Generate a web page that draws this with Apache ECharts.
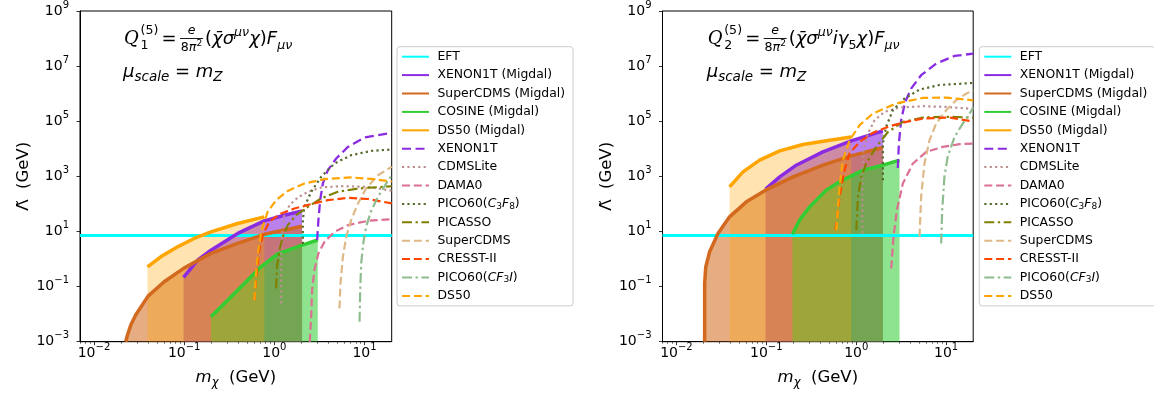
<!DOCTYPE html>
<html><head><meta charset="utf-8">
<script src="https://cdn.jsdelivr.net/npm/echarts@6.0.0/dist/echarts.min.js"></script>
<style>html,body{margin:0;padding:0;background:#fff}#c{width:1154px;height:394px}</style>
</head><body><div id="c"></div>
<script>
// ---------- axis values ----------
const xMin = 0.007, xMax = 20;
const xMajor = [0.01, 0.1, 1, 10];
const xMinor = [0.007,0.008,0.009,0.02,0.03,0.04,0.05,0.06,0.07,0.08,0.09,0.2,0.3,0.4,0.5,0.6,0.7,0.8,0.9,2,3,4,5,6,7,8,9];
const yMin = 1e-3, yMax = 1e9;
const yMajor = [1e-3, 1e-1, 1e1, 1e3, 1e5, 1e7, 1e9];

// ---------- left panel (Q1) : m in GeV, Lambda in GeV ----------
const q1_eft_m = [0.007, 20];
const q1_eft_L = [7.2, 7.2];
const q1_xenonMigdal_m = [0.0985, 0.141, 0.198, 0.392, 0.774, 1.29, 2.03];
const q1_xenonMigdal_L = [0.215, 0.91, 2.1, 8.5, 24.3, 38.9, 56];
const q1_superCDMSMigdal_m = [0.0225, 0.0235, 0.0256, 0.029, 0.0398, 0.06, 0.0985, 0.198, 0.392, 0.774, 2.03];
const q1_superCDMSMigdal_L = [0.001, 0.00174, 0.004, 0.0093, 0.045, 0.149, 0.457, 1.6, 3.7, 7.9, 15.5];
const q1_cosineMigdal_m = [0.198, 0.303, 0.464, 0.711, 1.09, 2.03, 3.03];
const q1_cosineMigdal_L = [0.008, 0.032, 0.13, 0.52, 1.55, 3.2, 4.9];
const q1_ds50Migdal_m = [0.0392, 0.055, 0.0845, 0.129, 0.198, 0.392, 0.774];
const q1_ds50Migdal_L = [0.52, 1.2, 2.77, 5.58, 9.7, 19.5, 33.9];
const q1_xenon1t_m = [2.98, 3.08, 3.22, 3.45, 3.92, 4.85, 6.54, 10, 20];
const q1_xenon1t_L = [4.85, 25.7, 137, 552, 1675, 4450, 11700, 25700, 38000];
const q1_cdmslite_m = [1.19, 1.19, 1.21, 1.27, 1.47, 1.82, 2.35, 3.3, 5.5, 10.9, 20];
const q1_cdmslite_L = [0.0245, 0.91, 6.4, 33.9, 90, 171, 274, 395, 440, 417, 300];
const q1_dama0_m = [2.47, 2.56, 2.62, 2.78, 3.08, 3.6, 4.64, 6.55, 10.9, 20];
const q1_dama0_L = [0.001, 0.008, 0.0746, 0.396, 1.6, 4.2, 9.7, 17, 24.3, 28];
const q1_pico60c3f8_m = [2.07, 2.07, 2.15, 2.56, 3.3, 4.64, 7.1, 11.9, 20];
const q1_pico60c3f8_L = [3.5, 25.7, 78, 274, 955, 2930, 5860, 8400, 9440];
const q1_picasso_m = [1.045, 1.07, 1.14, 1.24, 1.41, 1.74, 2.35, 3.3, 5.06, 8.45, 20];
const q1_picasso_L = [0.086, 0.52, 2.1, 6.4, 17, 39, 78, 158, 274, 363, 437];
const q1_supercdms_m = [5.27, 5.41, 5.75, 6.27, 7.1, 8.45, 10.4, 14.1, 20];
const q1_supercdms_L = [0.0162, 0.13, 1.2, 6.4, 25.7, 104, 363, 1100, 2240];
const q1_cresst_m = [0.6, 0.643, 0.681, 0.743, 0.879, 1.14, 1.67, 2.56, 3.92, 6.55, 10.9, 20];
const q1_cresst_L = [0.032, 0.41, 2.1, 7.4, 22.4, 42.7, 68, 98, 137, 166, 151, 104];
const q1_pico60cf3i_m = [8.8, 8.95, 9.18, 9.68, 10.4, 11.9, 14.1, 17.4, 20];
const q1_pico60cf3i_L = [0.0053, 0.0746, 0.69, 3.68, 14.8, 59, 180, 552, 1100];
const q1_ds50_m = [0.6, 0.627, 0.664, 0.724, 0.843, 1.045, 1.41, 2.15, 3.6, 7.1, 12.9, 20];
const q1_ds50_L = [0.032, 0.30, 2.1, 11.2, 51.5, 137, 297, 552, 789, 912, 789, 646];

// ---------- right panel (Q2) ----------
const q2_eft_m = [0.007, 20];
const q2_eft_L = [7.2, 7.2];
const q2_xenonMigdal_m = [0.098, 0.141, 0.215, 0.426, 0.879, 1.98];
const q2_xenonMigdal_L = [343, 955, 2540, 7700, 19400, 44600];
const q2_superCDMSMigdal_m = [0.0206, 0.0206, 0.0212, 0.0234, 0.029, 0.039, 0.06, 0.098, 0.198, 0.426, 0.879, 1.98];
const q2_superCDMSMigdal_L = [0.001, 0.13, 0.52, 1.83, 8.5, 33.9, 119, 316, 955, 2540, 5530, 11200];
const q2_cosineMigdal_m = [0.195, 0.234, 0.303, 0.464, 0.653, 1.19, 1.98, 3.03];
const q2_cosineMigdal_L = [7.9, 25.7, 78, 316, 631, 1675, 2540, 3860];
const q2_ds50Migdal_m = [0.039, 0.055, 0.0843, 0.141, 0.255, 0.505, 0.879];
const q2_ds50Migdal_L = [416, 1456, 3860, 8400, 14300, 20500, 26900];
const q2_xenon1t_m = [2.9, 2.98, 3.16, 3.5, 4.08, 5.27, 7.74, 12.4, 20];
const q2_xenon1t_L = [2000, 15500, 109000, 500000, 1.53e6, 4.68e6, 1.24e7, 2.34e7, 2.85e7];
const q2_cdmslite_m = [1.17, 1.17, 1.2, 1.35, 1.6, 2.06, 3.03, 5.5, 10, 20];
const q2_cdmslite_L = [8.5, 955, 8900, 35900, 109000, 219000, 314000, 351000, 331000, 280000];
const q2_dama0_m = [2.45, 2.6, 2.83, 3.3, 4.27, 6.0, 9.18, 14.1, 20];
const q2_dama0_L = [0.457, 6.4, 59, 552, 2930, 7700, 11700, 14700, 15500];
const q2_pico60c3f8_m = [1.98, 1.98, 2.15, 2.55, 3.44, 5.06, 8.43, 20];
const q2_pico60c3f8_L = [726, 15500, 62200, 251000, 665000, 1.41e6, 2.07e6, 2.45e6];
const q2_picasso_m = [1.0, 1.045, 1.14, 1.29, 1.67, 2.24, 3.3, 5.5, 10, 20];
const q2_picasso_L = [11, 180, 955, 2930, 11700, 39800, 94600, 136000, 145000, 136000];
const q2_supercdms_m = [5.06, 5.27, 5.74, 6.53, 7.74, 10, 12.9, 16.7, 20];
const q2_supercdms_L = [6.5, 180, 2930, 20400, 82200, 251000, 575000, 1e6, 1.33e6];
const q2_cresst_m = [0.589, 0.653, 0.741, 0.843, 1.09, 1.53, 2.34, 3.6, 5.5, 10.9, 20];
const q2_cresst_L = [11.2, 180, 1675, 6760, 17800, 37800, 66100, 94600, 125000, 136000, 97700];
const q2_pico60cf3i_m = [8.8, 9.04, 9.57, 10.4, 12.4, 15.3, 18.2, 20];
const q2_pico60cf3i_L = [3.68, 59, 955, 5130, 26900, 82200, 190000, 316000];
const q2_ds50_m = [0.6, 0.653, 0.71, 0.843, 1.09, 1.53, 2.78, 5.5, 10, 20];
const q2_ds50_L = [11.2, 417, 3860, 20400, 71800, 190000, 439000, 701000, 724000, 575000];

// ---------- styling ----------
const F = 'DejaVu Sans';
const lg = Math.log10;
const names = ['EFT','XENON1T (Migdal)','SuperCDMS (Migdal)','COSINE (Migdal)','DS50 (Migdal)','XENON1T','CDMSLite','DAMA0','PICO60(C3F8)','PICASSO','SuperCDMS','CRESST-II','PICO60(CF3I)','DS50'];
const sty = {
  'EFT': {color:'#00ffff', width:3, type:'solid'},
  'XENON1T (Migdal)': {color:'#8a2be2', width:3.5, type:'solid'},
  'SuperCDMS (Migdal)': {color:'#d2691e', width:3.5, type:'solid'},
  'COSINE (Migdal)': {color:'#32cd32', width:3.5, type:'solid'},
  'DS50 (Migdal)': {color:'#ffa500', width:3.5, type:'solid'},
  'XENON1T': {color:'#8a2be2', width:2.3, type:[9,4.5]},
  'CDMSLite': {color:'#bc8f8f', width:2.2, type:[2.2,3.2]},
  'DAMA0': {color:'#db7093', width:2.2, type:[8,3.8]},
  'PICO60(C3F8)': {color:'#556b2f', width:2.2, type:[2.2,3.2]},
  'PICASSO': {color:'#808000', width:2.2, type:[10,3.5,2.4,3.5]},
  'SuperCDMS': {color:'#deb887', width:2.2, type:[8,3.8]},
  'CRESST-II': {color:'#ff4500', width:2.2, type:[8,3.8]},
  'PICO60(CF3I)': {color:'#8fbc8f', width:2.2, type:[10,3.5,2.4,3.5]},
  'DS50': {color:'#ffa500', width:2.2, type:[8,3.8]}
};
const fills = [ // drawing order of shaded regions
  ['XENON1T (Migdal)', 0.6], ['SuperCDMS (Migdal)', 0.55], ['COSINE (Migdal)', 0.55], ['DS50 (Migdal)', 0.3]
];
const panelData = [
  {'EFT':[q1_eft_m,q1_eft_L],'XENON1T (Migdal)':[q1_xenonMigdal_m,q1_xenonMigdal_L],'SuperCDMS (Migdal)':[q1_superCDMSMigdal_m,q1_superCDMSMigdal_L],
   'COSINE (Migdal)':[q1_cosineMigdal_m,q1_cosineMigdal_L],'DS50 (Migdal)':[q1_ds50Migdal_m,q1_ds50Migdal_L],'XENON1T':[q1_xenon1t_m,q1_xenon1t_L],
   'CDMSLite':[q1_cdmslite_m,q1_cdmslite_L],'DAMA0':[q1_dama0_m,q1_dama0_L],'PICO60(C3F8)':[q1_pico60c3f8_m,q1_pico60c3f8_L],
   'PICASSO':[q1_picasso_m,q1_picasso_L],'SuperCDMS':[q1_supercdms_m,q1_supercdms_L],'CRESST-II':[q1_cresst_m,q1_cresst_L],
   'PICO60(CF3I)':[q1_pico60cf3i_m,q1_pico60cf3i_L],'DS50':[q1_ds50_m,q1_ds50_L]},
  {'EFT':[q2_eft_m,q2_eft_L],'XENON1T (Migdal)':[q2_xenonMigdal_m,q2_xenonMigdal_L],'SuperCDMS (Migdal)':[q2_superCDMSMigdal_m,q2_superCDMSMigdal_L],
   'COSINE (Migdal)':[q2_cosineMigdal_m,q2_cosineMigdal_L],'DS50 (Migdal)':[q2_ds50Migdal_m,q2_ds50Migdal_L],'XENON1T':[q2_xenon1t_m,q2_xenon1t_L],
   'CDMSLite':[q2_cdmslite_m,q2_cdmslite_L],'DAMA0':[q2_dama0_m,q2_dama0_L],'PICO60(C3F8)':[q2_pico60c3f8_m,q2_pico60c3f8_L],
   'PICASSO':[q2_picasso_m,q2_picasso_L],'SuperCDMS':[q2_supercdms_m,q2_supercdms_L],'CRESST-II':[q2_cresst_m,q2_cresst_L],
   'PICO60(CF3I)':[q2_pico60cf3i_m,q2_pico60cf3i_L],'DS50':[q2_ds50_m,q2_ds50_L]}
];
const pts = (m, L) => m.map((v, i) => [lg(v), lg(L[i])]);

function powLabel(v) {
  const e = Math.round(v);
  if (Math.abs(v - e) > 1e-6) return '';
  return '{b|10}{s|' + (e < 0 ? '\u2212' + (-e) : e) + '}';
}
const powRich = {
  b: {fontSize: 14, fontFamily: F, lineHeight: 22, color: '#000'},
  s: {fontSize: 10, fontFamily: F, lineHeight: 8, verticalAlign: 'top', color: '#000'}
};

const grids = [
  {left: 80, top: 10.7, width: 311.7, height: 331, show: true, borderColor: '#000', borderWidth: 1, backgroundColor: 'transparent'},
  {left: 662.5, top: 10.7, width: 310.7, height: 331, show: true, borderColor: '#000', borderWidth: 1, backgroundColor: 'transparent'}
];
const xAxes = [], yAxes = [];
[0, 1].forEach(g => {
  xAxes.push({type: 'value', gridIndex: g, min: lg(xMin), max: lg(xMax), position: 'bottom', splitNumber: 4,
    axisLine: {show: true, onZero: false, lineStyle: {color: '#000', width: 1}},
    axisTick: {show: true, length: 3.5, customValues: xMajor.map(lg), lineStyle: {color: '#000', width: 0.8}},
    axisLabel: {customValues: xMajor.map(lg), formatter: powLabel, rich: powRich, margin: 1, color: '#000'},
    splitLine: {show: false},
    name: '{i|m}{sb|\u03c7}  (GeV)', nameLocation: 'middle', nameGap: 25,
    nameTextStyle: {fontSize: 16.5, fontFamily: F, color: '#000', lineHeight: 22,
      rich: {i: {fontSize: 16.5, fontFamily: F, fontStyle: 'italic', lineHeight: 22, color: '#000'},
             sb: {fontSize: 11.5, fontFamily: F, fontStyle: 'italic', lineHeight: 12, verticalAlign: 'bottom', color: '#000'}}}
  });
  yAxes.push({type: 'value', gridIndex: g, min: lg(yMin), max: lg(yMax), interval: 2, position: 'left',
    axisLine: {show: true, onZero: false, lineStyle: {color: '#000', width: 1}},
    axisTick: {show: true, length: 3.5, customValues: yMajor.map(lg), lineStyle: {color: '#000', width: 0.8}},
    axisLabel: {customValues: yMajor.map(lg), formatter: powLabel, rich: powRich, margin: 11, color: '#000'},
    splitLine: {show: false},
    name: '\u039b\u0303  (GeV)', nameLocation: 'middle', nameGap: 43,
    nameTextStyle: {fontSize: 16.5, fontFamily: F, color: '#000'}
  });
});
// minor tick axes (log-spaced minor ticks)
[0, 1].forEach(g => {
  xAxes.push({type: 'value', gridIndex: g, min: lg(xMin), max: lg(xMax), position: 'bottom',
    axisLine: {show: false, onZero: false},
    axisTick: {show: true, length: 2, customValues: xMinor.map(lg), lineStyle: {color: '#000', width: 0.6}},
    axisLabel: {show: false}, splitLine: {show: false}});
});

const series = [];
[0, 1].forEach(g => {
  const D = panelData[g];
  fills.forEach(([n, op]) => {
    series.push({type: 'line', name: n + ' fill', xAxisIndex: g, yAxisIndex: g, data: pts(D[n][0], D[n][1]),
      symbol: 'none', silent: true, z: 1, lineStyle: {width: 0, opacity: 0},
      areaStyle: {origin: 'start', color: sty[n].color, opacity: op}});
  });
  names.forEach(n => {
    series.push({type: 'line', name: n, xAxisIndex: g, yAxisIndex: g, data: pts(D[n][0], D[n][1]),
      symbol: 'none', silent: true, z: 2, clip: true,
      lineStyle: {color: sty[n].color, width: sty[n].width, type: sty[n].type, cap: 'butt'},
      itemStyle: {color: sty[n].color}});
  });
});

function legendFor(left) {
  return {data: names, orient: 'vertical', left: left, top: 46.7, itemWidth: 27, itemHeight: 14, itemGap: 4.4,
    padding: [3, 8, 3, 4], selectedMode: false, backgroundColor: '#fff', borderColor: '#cccccc', borderWidth: 1, borderRadius: 3,
    itemStyle: {opacity: 0, color: 'rgba(0,0,0,0)', borderWidth: 0, borderColor: 'rgba(0,0,0,0)'},
    formatter: n => n === 'PICO60(C3F8)' ? 'PICO60({i|C}{sb|3}{i|F}{sb|8})' : (n === 'PICO60(CF3I)' ? 'PICO60({i|CF}{sb|3}{i|I})' : n),
    textStyle: {fontSize: 12.4, fontFamily: F, color: '#000', lineHeight: 14, padding: [0, 0, 0, 3.5],
      rich: {i: {fontSize: 12.4, fontFamily: F, fontStyle: 'italic', lineHeight: 14, color: '#000'},
             sb: {fontSize: 9, fontFamily: F, lineHeight: 9, verticalAlign: 'bottom', color: '#000'}}}};
}

// ---------- annotation (math) ----------
const bodyRich = {
  p: {fontSize: 18, fontFamily: F, lineHeight: 26},
  g: {fontSize: 18, fontFamily: F, fontStyle: 'italic', lineHeight: 26},
  sp: {fontSize: 12.6, fontFamily: F, fontStyle: 'italic', lineHeight: 12, verticalAlign: 'top'},
  sb: {fontSize: 12.6, fontFamily: F, fontStyle: 'italic', lineHeight: 12, verticalAlign: 'bottom'},
  sbn: {fontSize: 12.6, fontFamily: F, lineHeight: 12, verticalAlign: 'bottom'}
};
function formula(x0, y0, idx, body) {
  const els = [];
  const T = (x, y, text, st) => els.push({type: 'text', x: x, y: y, silent: true, z: 100,
    style: Object.assign({text: text, fill: '#000', fontFamily: F, fontSize: 18, align: 'left', verticalAlign: 'middle'}, st)});
  T(x0 + 1, y0, 'Q', {fontFamily: 'DejaVu Serif', fontStyle: 'italic'});
  T(x0 + 17.5, y0 - 8.5, '(5)', {fontSize: 12.6});
  T(x0 + 17.5, y0 + 6.5, idx, {fontSize: 12.6});
  T(x0 + 38.5, y0, '=', {});
  T(x0 + 68.5, y0 - 8, 'e', {fontSize: 12.6, fontStyle: 'italic', align: 'center'});
  els.push({type: 'line', silent: true, z: 100, shape: {x1: x0 + 57, y1: y0 - 0.5, x2: x0 + 80, y2: y0 - 0.5}, style: {stroke: '#000', lineWidth: 0.9}});
  T(x0 + 68.5, y0 + 8.5, '{n|8}{g|\u03c0}{s|2}', {align: 'center', rich: {
    n: {fontSize: 12.6, fontFamily: F, lineHeight: 16}, g: {fontSize: 12.6, fontFamily: F, fontStyle: 'italic', lineHeight: 16},
    s: {fontSize: 9, fontFamily: F, lineHeight: 9, verticalAlign: 'top'}}});
  T(x0 + 82, y0, body, {rich: bodyRich});
  T(x0, y0 + 33, '{g|\u03bc}{sb|scale}{p| = }{g|m}{sb|Z}', {rich: {
    p: {fontSize: 18, fontFamily: F, lineHeight: 24}, g: {fontSize: 18, fontFamily: F, fontStyle: 'italic', lineHeight: 24},
    sb: {fontSize: 13.5, fontFamily: F, fontStyle: 'italic', lineHeight: 13, verticalAlign: 'bottom'}}});
  return els;
}
const body1 = '{p|(}{g|\u03c7\u0304\u03c3}{sp|\u03bc\u03bd}{g|\u03c7}{p|)}{g|F}{sb|\u03bc\u03bd}';
const body2 = '{p|(}{g|\u03c7\u0304\u03c3}{sp|\u03bc\u03bd}{g|i\u03b3}{sbn|5}{g|\u03c7}{p|)}{g|F}{sb|\u03bc\u03bd}';

const chart = echarts.init(document.getElementById('c'), null, {renderer: 'canvas'});
chart.setOption({
  animation: false,
  backgroundColor: '#fff',
  textStyle: {fontFamily: F},
  grid: grids,
  xAxis: xAxes,
  yAxis: yAxes,
  legend: [legendFor(397), legendFor(979.3)],
  series: series,
  graphic: {elements: formula(123, 39, '1', body1).concat(formula(706.7, 39, '2', body2))}
});
</script></body></html>
